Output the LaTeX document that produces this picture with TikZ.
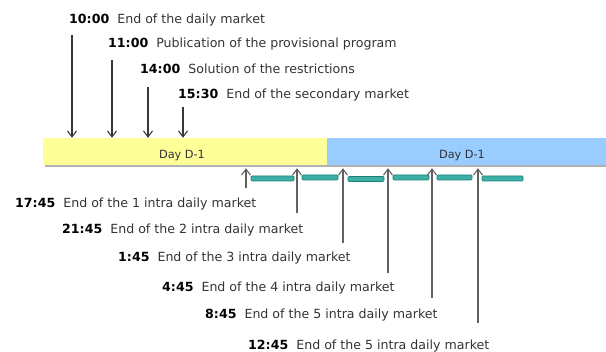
\documentclass[tikz,border=0pt]{standalone}
\usepackage{fontspec}
\setmainfont{DejaVu Sans}
\usetikzlibrary{arrows.meta,calc}
\definecolor{dayyellow}{RGB}{255,255,153}
\definecolor{dayblue}{RGB}{153,204,255}
\definecolor{segfill}{RGB}{60,176,166}
\definecolor{segline}{RGB}{30,125,118}
\newcommand{\evtext}[2]{{\color{black}\textbf{#1}}\hspace{8pt}#2}

\begin{document}
\begin{tikzpicture}[x=1pt,y=-1pt,
  every node/.style={inner sep=0pt,font=\fontsize{12.6}{15}\selectfont},
  timelabel/.style={anchor=base west,text=black!80},
  daybox/.style={rectangle,minimum height=27pt},
  daytext/.style={anchor=base,text=black!80,font=\fontsize{11.3}{13}\selectfont},
  downarrow/.style={draw=black!78,line width=1.1pt,-{Straight Barb[length=6pt,width=9pt]}},
  uparrow/.style={draw=black!62,line width=1.1pt,-{Straight Barb[length=6pt,width=9pt]}},
  segment/.style={fill=segfill,draw=segline,line width=0.7pt,rounded corners=1pt}]
\useasboundingbox (0,0) rectangle (606,352);

% the two days
\fill[black!30] (45,141) rectangle (606,167.5);
\node (day1) at (185,151.5) [daybox,fill=dayyellow,minimum width=284pt] {};
\node (day2) at (466.5,151.5) [daybox,fill=dayblue,minimum width=279pt] {};
\node (day1txt) at (182,158.5) [daytext] {Day D-1};
\node (day2txt) at (462,158.5) [daytext] {Day D-1};

% events of day D-1
\node (t1) at (69,23.6) [timelabel] {\evtext{10:00}{End of the daily market}};
\node (t2) at (108,47.6) [timelabel] {\evtext{11:00}{Publication of the provisional program}};
\node (t3) at (140,73.6) [timelabel] {\evtext{14:00}{Solution of the restrictions}};
\node (t4) at (178,98.6) [timelabel] {\evtext{15:30}{End of the secondary market}};

\coordinate (a1) at (72,35);
\coordinate (a2) at (112,60);
\coordinate (a3) at (148,87);
\coordinate (a4) at (183,107);
\draw[downarrow] (a1) -- (a1 |- day1.north);
\draw[downarrow] (a2) -- (a2 |- day1.north);
\draw[downarrow] (a3) -- (a3 |- day1.north);
\draw[downarrow] (a4) -- (a4 |- day1.north);

% intra daily sessions
\draw[segment] (251,176) rectangle (294,181);
\draw[segment] (302,175) rectangle (338,180);
\draw[segment] (348,176.5) rectangle (384,181.5);
\draw[segment] (393,175) rectangle (429,180);
\draw[segment] (437,175) rectangle (472,180);
\draw[segment] (482,176) rectangle (523,181);

\node (m1) at (15,207.6) [timelabel] {\evtext{17:45}{End of the 1 intra daily market}};
\node (m2) at (62,233.6) [timelabel] {\evtext{21:45}{End of the 2 intra daily market}};
\node (m3) at (118,261.6) [timelabel] {\evtext{1:45}{End of the 3 intra daily market}};
\node (m4) at (162,291.6) [timelabel] {\evtext{4:45}{End of the 4 intra daily market}};
\node (m5) at (205,318.6) [timelabel] {\evtext{8:45}{End of the 5 intra daily market}};
\node (m6) at (248,349.6) [timelabel] {\evtext{12:45}{End of the 5 intra daily market}};

\coordinate (b1) at (246,188);
\coordinate (b2) at (297,213);
\coordinate (b3) at (343,243);
\coordinate (b4) at (388,273);
\coordinate (b5) at (432,298);
\coordinate (b6) at (478,323);
\draw[uparrow] (b1) -- ($(b1 |- day1.south)+(0,3)$);
\draw[uparrow] (b2) -- ($(b2 |- day1.south)+(0,3)$);
\draw[uparrow] (b3) -- ($(b3 |- day2.south)+(0,3)$);
\draw[uparrow] (b4) -- ($(b4 |- day2.south)+(0,3)$);
\draw[uparrow] (b5) -- ($(b5 |- day2.south)+(0,3)$);
\draw[uparrow] (b6) -- ($(b6 |- day2.south)+(0,3)$);
\end{tikzpicture}
\end{document}
